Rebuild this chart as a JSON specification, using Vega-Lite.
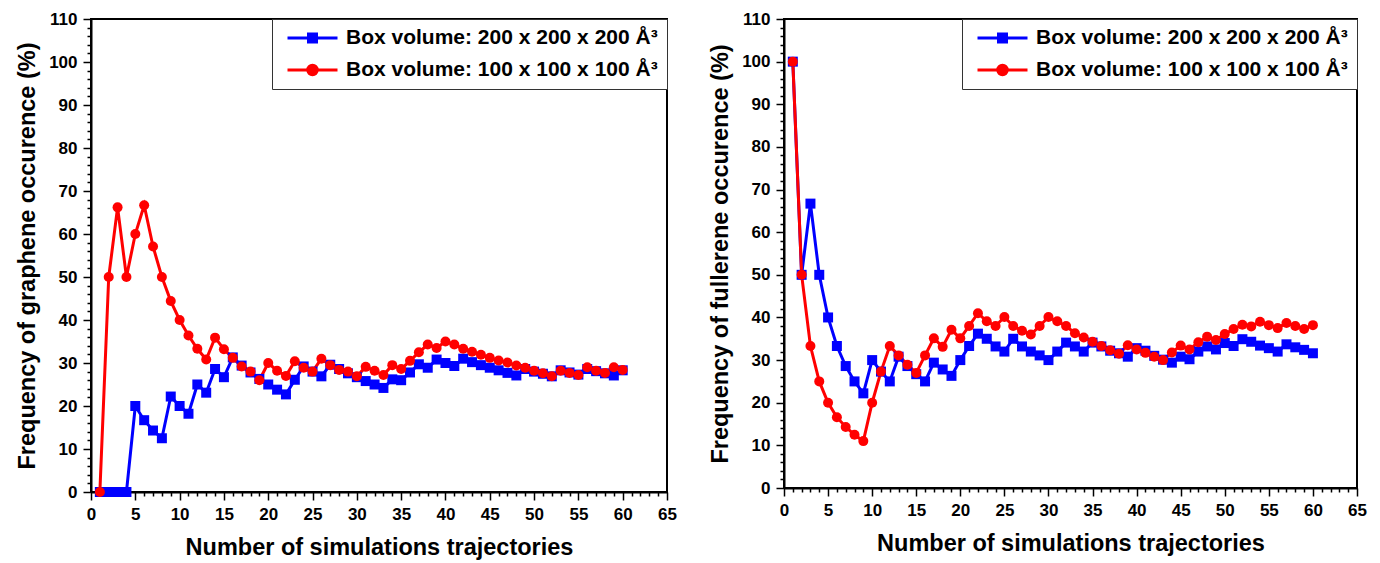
{
  "$schema": "https://vega.github.io/schema/vega-lite/v6.json",
  "padding": {"left": 14, "top": 9, "right": 2, "bottom": 0},
  "background": "white",
  "datasets": {
    "graphene": [
      {"n":1,"box":"200","f":0},{"n":2,"box":"200","f":0},{"n":3,"box":"200","f":0},{"n":4,"box":"200","f":0},{"n":5,"box":"200","f":20},{"n":6,"box":"200","f":16.7},{"n":7,"box":"200","f":14.3},{"n":8,"box":"200","f":12.5},{"n":9,"box":"200","f":22.2},{"n":10,"box":"200","f":20},
      {"n":11,"box":"200","f":18.2},{"n":12,"box":"200","f":25},{"n":13,"box":"200","f":23.1},{"n":14,"box":"200","f":28.6},{"n":15,"box":"200","f":26.7},{"n":16,"box":"200","f":31.3},{"n":17,"box":"200","f":29.4},{"n":18,"box":"200","f":27.8},{"n":19,"box":"200","f":26.3},{"n":20,"box":"200","f":25},
      {"n":21,"box":"200","f":23.8},{"n":22,"box":"200","f":22.7},{"n":23,"box":"200","f":26.1},{"n":24,"box":"200","f":29.2},{"n":25,"box":"200","f":28},{"n":26,"box":"200","f":26.9},{"n":27,"box":"200","f":29.6},{"n":28,"box":"200","f":28.6},{"n":29,"box":"200","f":27.6},{"n":30,"box":"200","f":26.7},
      {"n":31,"box":"200","f":25.8},{"n":32,"box":"200","f":25},{"n":33,"box":"200","f":24.2},{"n":34,"box":"200","f":26.2},{"n":35,"box":"200","f":26},{"n":36,"box":"200","f":27.8},{"n":37,"box":"200","f":29.7},{"n":38,"box":"200","f":28.9},{"n":39,"box":"200","f":30.8},{"n":40,"box":"200","f":30},
      {"n":41,"box":"200","f":29.3},{"n":42,"box":"200","f":31},{"n":43,"box":"200","f":30.2},{"n":44,"box":"200","f":29.5},{"n":45,"box":"200","f":28.9},{"n":46,"box":"200","f":28.3},{"n":47,"box":"200","f":27.7},{"n":48,"box":"200","f":27.1},{"n":49,"box":"200","f":28.6},{"n":50,"box":"200","f":28},
      {"n":51,"box":"200","f":27.5},{"n":52,"box":"200","f":26.9},{"n":53,"box":"200","f":28.3},{"n":54,"box":"200","f":27.8},{"n":55,"box":"200","f":27.3},{"n":56,"box":"200","f":28.6},{"n":57,"box":"200","f":28.1},{"n":58,"box":"200","f":27.6},{"n":59,"box":"200","f":27.1},{"n":60,"box":"200","f":28.3},
      {"n":1,"box":"100","f":0},{"n":2,"box":"100","f":50},{"n":3,"box":"100","f":66.2},{"n":4,"box":"100","f":50},{"n":5,"box":"100","f":60},{"n":6,"box":"100","f":66.7},{"n":7,"box":"100","f":57.1},{"n":8,"box":"100","f":50},{"n":9,"box":"100","f":44.4},{"n":10,"box":"100","f":40},
      {"n":11,"box":"100","f":36.4},{"n":12,"box":"100","f":33.3},{"n":13,"box":"100","f":30.8},{"n":14,"box":"100","f":35.9},{"n":15,"box":"100","f":33.2},{"n":16,"box":"100","f":31.2},{"n":17,"box":"100","f":29.2},{"n":18,"box":"100","f":28},{"n":19,"box":"100","f":26},{"n":20,"box":"100","f":30},
      {"n":21,"box":"100","f":28.2},{"n":22,"box":"100","f":27},{"n":23,"box":"100","f":30.4},{"n":24,"box":"100","f":28.9},{"n":25,"box":"100","f":28},{"n":26,"box":"100","f":31},{"n":27,"box":"100","f":29.5},{"n":28,"box":"100","f":28.4},{"n":29,"box":"100","f":28},{"n":30,"box":"100","f":26.9},
      {"n":31,"box":"100","f":29.1},{"n":32,"box":"100","f":28.2},{"n":33,"box":"100","f":27.2},{"n":34,"box":"100","f":29.5},{"n":35,"box":"100","f":28.6},{"n":36,"box":"100","f":30.5},{"n":37,"box":"100","f":32.5},{"n":38,"box":"100","f":34.3},{"n":39,"box":"100","f":33.5},{"n":40,"box":"100","f":35},
      {"n":41,"box":"100","f":34.3},{"n":42,"box":"100","f":33.3},{"n":43,"box":"100","f":32.6},{"n":44,"box":"100","f":31.9},{"n":45,"box":"100","f":31.2},{"n":46,"box":"100","f":30.6},{"n":47,"box":"100","f":30.1},{"n":48,"box":"100","f":29.4},{"n":49,"box":"100","f":28.9},{"n":50,"box":"100","f":28.2},
      {"n":51,"box":"100","f":27.6},{"n":52,"box":"100","f":26.9},{"n":53,"box":"100","f":28.2},{"n":54,"box":"100","f":27.7},{"n":55,"box":"100","f":27.2},{"n":56,"box":"100","f":29},{"n":57,"box":"100","f":28.2},{"n":58,"box":"100","f":27.7},{"n":59,"box":"100","f":29},{"n":60,"box":"100","f":28.4}
    ],
    "fullerene": [
      {"n":1,"box":"200","f":100},{"n":2,"box":"200","f":50},{"n":3,"box":"200","f":66.7},{"n":4,"box":"200","f":50},{"n":5,"box":"200","f":40},{"n":6,"box":"200","f":33.3},{"n":7,"box":"200","f":28.6},{"n":8,"box":"200","f":25},{"n":9,"box":"200","f":22.2},{"n":10,"box":"200","f":30},
      {"n":11,"box":"200","f":27.3},{"n":12,"box":"200","f":25},{"n":13,"box":"200","f":30.8},{"n":14,"box":"200","f":28.6},{"n":15,"box":"200","f":26.7},{"n":16,"box":"200","f":25},{"n":17,"box":"200","f":29.4},{"n":18,"box":"200","f":27.8},{"n":19,"box":"200","f":26.3},{"n":20,"box":"200","f":30},
      {"n":21,"box":"200","f":33.3},{"n":22,"box":"200","f":36.2},{"n":23,"box":"200","f":35},{"n":24,"box":"200","f":33.2},{"n":25,"box":"200","f":32},{"n":26,"box":"200","f":35},{"n":27,"box":"200","f":33.2},{"n":28,"box":"200","f":32},{"n":29,"box":"200","f":31.1},{"n":30,"box":"200","f":30},
      {"n":31,"box":"200","f":32},{"n":32,"box":"200","f":34.1},{"n":33,"box":"200","f":33.2},{"n":34,"box":"200","f":32},{"n":35,"box":"200","f":34.1},{"n":36,"box":"200","f":33.2},{"n":37,"box":"200","f":32.2},{"n":38,"box":"200","f":31.6},{"n":39,"box":"200","f":30.8},{"n":40,"box":"200","f":32.8},
      {"n":41,"box":"200","f":32.2},{"n":42,"box":"200","f":31},{"n":43,"box":"200","f":30.1},{"n":44,"box":"200","f":29.4},{"n":45,"box":"200","f":30.8},{"n":46,"box":"200","f":30.2},{"n":47,"box":"200","f":32},{"n":48,"box":"200","f":33.2},{"n":49,"box":"200","f":32.5},{"n":50,"box":"200","f":34},
      {"n":51,"box":"200","f":33.3},{"n":52,"box":"200","f":34.9},{"n":53,"box":"200","f":34.3},{"n":54,"box":"200","f":33.4},{"n":55,"box":"200","f":32.8},{"n":56,"box":"200","f":32},{"n":57,"box":"200","f":33.7},{"n":58,"box":"200","f":33},{"n":59,"box":"200","f":32.4},{"n":60,"box":"200","f":31.6},
      {"n":1,"box":"100","f":100},{"n":2,"box":"100","f":50},{"n":3,"box":"100","f":33.3},{"n":4,"box":"100","f":25},{"n":5,"box":"100","f":20},{"n":6,"box":"100","f":16.6},{"n":7,"box":"100","f":14.3},{"n":8,"box":"100","f":12.5},{"n":9,"box":"100","f":11},{"n":10,"box":"100","f":20},
      {"n":11,"box":"100","f":27.3},{"n":12,"box":"100","f":33.3},{"n":13,"box":"100","f":31.1},{"n":14,"box":"100","f":28.9},{"n":15,"box":"100","f":27},{"n":16,"box":"100","f":31.1},{"n":17,"box":"100","f":35.1},{"n":18,"box":"100","f":33.1},{"n":19,"box":"100","f":37.1},{"n":20,"box":"100","f":35.1},
      {"n":21,"box":"100","f":38},{"n":22,"box":"100","f":41},{"n":23,"box":"100","f":39.1},{"n":24,"box":"100","f":38},{"n":25,"box":"100","f":40.1},{"n":26,"box":"100","f":38},{"n":27,"box":"100","f":36.9},{"n":28,"box":"100","f":36},{"n":29,"box":"100","f":38},{"n":30,"box":"100","f":40.1},
      {"n":31,"box":"100","f":39.1},{"n":32,"box":"100","f":38},{"n":33,"box":"100","f":36.3},{"n":34,"box":"100","f":35.3},{"n":35,"box":"100","f":34.3},{"n":36,"box":"100","f":33.3},{"n":37,"box":"100","f":32.3},{"n":38,"box":"100","f":31.5},{"n":39,"box":"100","f":33.5},{"n":40,"box":"100","f":32.5},
      {"n":41,"box":"100","f":31.7},{"n":42,"box":"100","f":30.8},{"n":43,"box":"100","f":30},{"n":44,"box":"100","f":31.8},{"n":45,"box":"100","f":33.4},{"n":46,"box":"100","f":32.5},{"n":47,"box":"100","f":34.2},{"n":48,"box":"100","f":35.5},{"n":49,"box":"100","f":34.7},{"n":50,"box":"100","f":36.1},
      {"n":51,"box":"100","f":37.3},{"n":52,"box":"100","f":38.3},{"n":53,"box":"100","f":37.9},{"n":54,"box":"100","f":39},{"n":55,"box":"100","f":38.2},{"n":56,"box":"100","f":37.5},{"n":57,"box":"100","f":38.7},{"n":58,"box":"100","f":38},{"n":59,"box":"100","f":37.3},{"n":60,"box":"100","f":38.2}
    ]
  },
  "hconcat": [
    {
      "width": 576,
      "height": 473,
      "data": {"name": "graphene"},
      "encoding": {
        "x": {"field": "n", "type": "quantitative", "scale": {"domain": [0, 65], "nice": false, "zero": false},
          "axis": {"title": "Number of simulations trajectories", "values": [0,1,2,3,4,5,6,7,8,9,10,11,12,13,14,15,16,17,18,19,20,21,22,23,24,25,26,27,28,29,30,31,32,33,34,35,36,37,38,39,40,41,42,43,44,45,46,47,48,49,50,51,52,53,54,55,56,57,58,59,60,61,62,63,64,65],
            "labelExpr": "datum.value % 5 === 0 ? datum.label : ''",
            "tickSize": {"condition": {"test": "datum.value % 5 === 0", "value": 8}, "value": 4},
            "labelPadding": 6, "titlePadding": 13}},
        "y": {"field": "f", "type": "quantitative", "scale": {"domain": [0, 110], "nice": false},
          "axis": {"title": "Frequency of graphene occurence (%)", "values": [0,2,4,6,8,10,12,14,16,18,20,22,24,26,28,30,32,34,36,38,40,42,44,46,48,50,52,54,56,58,60,62,64,66,68,70,72,74,76,78,80,82,84,86,88,90,92,94,96,98,100,102,104,106,108,110],
            "labelExpr": "datum.value % 10 === 0 ? datum.label : ''",
            "tickSize": {"condition": {"test": "datum.value % 10 === 0", "value": 8}, "value": 4},
            "labelPadding": 6, "titlePadding": 9}},
        "color": {"field": "box", "type": "nominal", "scale": {"domain": ["200", "100"], "range": ["#0000FF", "#FF0000"]},
          "legend": {"title": null, "orient": "top-right", "offset": 0,
            "labelExpr": "datum.label === '200' ? 'Box volume: 200 x 200 x 200 Å³' : 'Box volume: 100 x 100 x 100 Å³'",
            "labelFont": "Liberation Sans", "labelFontWeight": "bold", "labelFontSize": 21, "labelColor": "black", "labelLimit": 500,
            "symbolSize": 2500, "clipHeight": 20, "rowPadding": 11, "labelOffset": 7, "symbolOffset": 5, "symbolStrokeWidth": 2.5,
            "strokeColor": "#333333", "fillColor": "white", "padding": 9,
            "encode": {"symbols": {"update": {
              "shape": {"signal": "datum.value === '200' ? 'M-1,0H1M-0.16,-0.16H0.16V0.16H-0.16Z' : 'M-1,0H1M-0.19,0A0.19,0.19,0,1,0,0.19,0A0.19,0.19,0,1,0,-0.19,0Z'"},
              "fill": {"signal": "datum.value === '200' ? '#0000FF' : '#FF0000'"},
              "stroke": {"signal": "datum.value === '200' ? '#0000FF' : '#FF0000'"},
              "strokeWidth": {"value": 3},
              "opacity": {"value": 1}
            }}}}}
      },
      "layer": [
        {"mark": {"type": "line", "strokeWidth": 3}},
        {"transform": [{"filter": "datum.box === '200'"}], "mark": {"type": "point", "shape": "square", "filled": true, "size": 100, "opacity": 1}},
        {"transform": [{"filter": "datum.box === '100'"}], "mark": {"type": "point", "shape": "circle", "filled": true, "size": 100, "opacity": 1}}
      ]
    },
    {
      "width": 573,
      "height": 469,
      "data": {"name": "fullerene"},
      "encoding": {
        "x": {"field": "n", "type": "quantitative", "scale": {"domain": [0, 65], "nice": false, "zero": false},
          "axis": {"title": "Number of simulations trajectories", "values": [0,1,2,3,4,5,6,7,8,9,10,11,12,13,14,15,16,17,18,19,20,21,22,23,24,25,26,27,28,29,30,31,32,33,34,35,36,37,38,39,40,41,42,43,44,45,46,47,48,49,50,51,52,53,54,55,56,57,58,59,60,61,62,63,64,65],
            "labelExpr": "datum.value % 5 === 0 ? datum.label : ''",
            "tickSize": {"condition": {"test": "datum.value % 5 === 0", "value": 8}, "value": 4},
            "labelPadding": 6, "titlePadding": 13}},
        "y": {"field": "f", "type": "quantitative", "scale": {"domain": [0, 110], "nice": false},
          "axis": {"title": "Frequency of fullerene occurence (%)", "values": [0,2,4,6,8,10,12,14,16,18,20,22,24,26,28,30,32,34,36,38,40,42,44,46,48,50,52,54,56,58,60,62,64,66,68,70,72,74,76,78,80,82,84,86,88,90,92,94,96,98,100,102,104,106,108,110],
            "labelExpr": "datum.value % 10 === 0 ? datum.label : ''",
            "tickSize": {"condition": {"test": "datum.value % 10 === 0", "value": 8}, "value": 4},
            "labelPadding": 6, "titlePadding": 9}},
        "color": {"field": "box", "type": "nominal", "scale": {"domain": ["200", "100"], "range": ["#0000FF", "#FF0000"]},
          "legend": {"title": null, "orient": "top-right", "offset": 0,
            "labelExpr": "datum.label === '200' ? 'Box volume: 200 x 200 x 200 Å³' : 'Box volume: 100 x 100 x 100 Å³'",
            "labelFont": "Liberation Sans", "labelFontWeight": "bold", "labelFontSize": 21, "labelColor": "black", "labelLimit": 500,
            "symbolSize": 2500, "clipHeight": 20, "rowPadding": 11, "labelOffset": 7, "symbolOffset": 5, "symbolStrokeWidth": 2.5,
            "strokeColor": "#333333", "fillColor": "white", "padding": 9,
            "encode": {"symbols": {"update": {
              "shape": {"signal": "datum.value === '200' ? 'M-1,0H1M-0.16,-0.16H0.16V0.16H-0.16Z' : 'M-1,0H1M-0.19,0A0.19,0.19,0,1,0,0.19,0A0.19,0.19,0,1,0,-0.19,0Z'"},
              "fill": {"signal": "datum.value === '200' ? '#0000FF' : '#FF0000'"},
              "stroke": {"signal": "datum.value === '200' ? '#0000FF' : '#FF0000'"},
              "strokeWidth": {"value": 3},
              "opacity": {"value": 1}
            }}}}}
      },
      "layer": [
        {"mark": {"type": "line", "strokeWidth": 3}},
        {"transform": [{"filter": "datum.box === '200'"}], "mark": {"type": "point", "shape": "square", "filled": true, "size": 100, "opacity": 1}},
        {"transform": [{"filter": "datum.box === '100'"}], "mark": {"type": "point", "shape": "circle", "filled": true, "size": 100, "opacity": 1}}
      ]
    }
  ],
  "spacing": 29,
  "resolve": {"scale": {"color": "independent", "x": "independent", "y": "independent"}, "legend": {"color": "independent"}},
  "config": {
    "font": "Liberation Sans",
    "view": {"stroke": "black", "strokeWidth": 2},
    "axis": {"domainColor": "black", "domainWidth": 2, "tickColor": "black", "tickWidth": 1.5,
      "labelFont": "Liberation Sans", "labelFontWeight": "bold", "labelFontSize": 17, "labelColor": "black",
      "titleFont": "Liberation Sans", "titleFontWeight": "bold", "titleFontSize": 23.5, "titleColor": "black",
      "grid": false, "labelOverlap": false, "labelFlush": false}
  }
}
